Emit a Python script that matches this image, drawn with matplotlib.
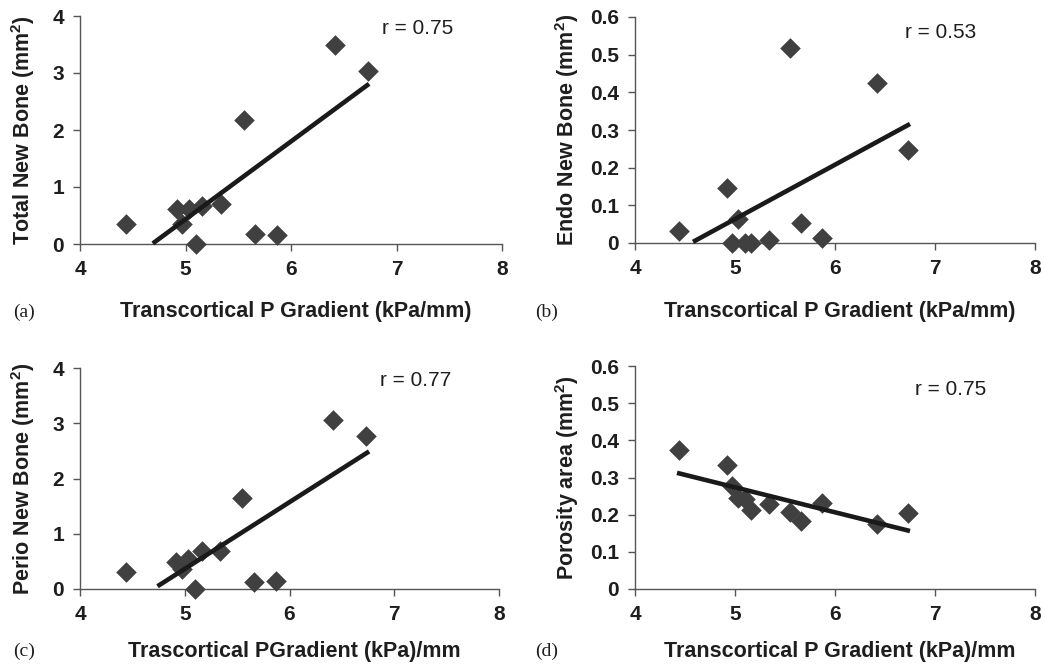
import matplotlib
matplotlib.use("Agg")
import matplotlib.pyplot as plt
import numpy as np

# Shared x data: transcortical pressure gradient (kPa/mm)
gradient = [4.44, 4.92, 4.97, 5.03, 5.10, 5.16, 5.34, 5.55, 5.66, 5.87, 6.42, 6.73]

total_new_bone = [0.35, 0.62, 0.35, 0.61, 0.00, 0.66, 0.70, 2.18, 0.17, 0.15, 3.49, 3.03]
endo_new_bone = [0.031, 0.145, 0.000, 0.063, 0.000, 0.000, 0.007, 0.517, 0.054, 0.012, 0.426, 0.247]
perio_new_bone = [0.31, 0.49, 0.36, 0.54, 0.00, 0.68, 0.69, 1.65, 0.13, 0.15, 3.06, 2.77]
porosity_area = [0.373, 0.333, 0.277, 0.245, 0.241, 0.212, 0.230, 0.206, 0.184, 0.232, 0.175, 0.205]

# Trend lines: (x_start, y_start, x_end, y_end)
trend_a = [4.69, 0.01, 6.74, 2.81]
trend_b = [4.58, 0.003, 6.75, 0.316]
trend_c = [4.74, 0.05, 6.76, 2.49]
trend_d = [4.42, 0.3125, 6.75, 0.156]

r_labels = ["r = 0.75", "r = 0.53", "r = 0.77", "r = 0.75"]
panel_labels = ["(a)", "(b)", "(c)", "(d)"]
ylabels = ["Total New Bone (mm$^{2}$)", "Endo New Bone (mm$^{2}$)",
           "Perio New Bone (mm$^{2}$)", "Porosity area (mm$^{2}$)"]
xlabels = ["Transcortical P Gradient (kPa/mm)", "Transcortical P Gradient (kPa/mm)",
           "Trascortical PGradient (kPa)/mm", "Transcortical P Gradient (kPa)/mm"]
xticks = [4, 5, 6, 7, 8]
yticks_big = [0, 1, 2, 3, 4]
yticks_small = [0, 0.1, 0.2, 0.3, 0.4, 0.5, 0.6]

W, H = 1045, 669
fig = plt.figure(figsize=(W / 100, H / 100), dpi=100)
plt.rcParams['font.family'] = ['Liberation Sans', 'DejaVu Sans']
plt.rcParams['mathtext.fontset'] = 'custom'
plt.rcParams['mathtext.rm'] = 'Liberation Sans:bold'
plt.rcParams['mathtext.it'] = 'Liberation Sans:bold'
plt.rcParams['mathtext.bf'] = 'Liberation Sans:bold'

# axes boxes in pixel coords: left, right, top, bottom
boxes = [(80, 502, 16, 244), (635, 1035, 17, 243), (80, 499, 368, 589), (635, 1035, 366, 589)]
ydata = [total_new_bone, endo_new_bone, perio_new_bone, porosity_area]
trends = [trend_a, trend_b, trend_c, trend_d]
yticks_all = [yticks_big, yticks_small, yticks_big, yticks_small]
ylims = [(0, 4), (0, 0.6), (0, 4), (0, 0.6)]
r_pos = [(382, 29), (905, 32), (380, 380), (915, 389)]
xlab_y = [312, 312, 651, 651]
panel_x = [13, 535]
ylab_x = [23, 47, 23, 47]

axis_col = "#555555"
for i in range(4):
    l, r, t, b = boxes[i]
    ax = fig.add_axes([l / W, 1 - b / H, (r - l) / W, (b - t) / H])
    ax.scatter(gradient, ydata[i], marker="D", s=110, color="#404040", zorder=3, linewidths=0)
    tr = trends[i]
    ax.plot([tr[0], tr[2]], [tr[1], tr[3]], color="#1a1a1a", lw=3.3, zorder=4, solid_capstyle="butt")
    ax.set_xlim(4, 8)
    ax.set_ylim(*ylims[i])
    ax.set_xticks(xticks)
    ax.set_yticks(yticks_all[i])
    if ylims[i][1] < 1:
        ax.set_yticklabels(["0"] + [f"{v:.1f}" for v in yticks_all[i][1:]])
    ax.spines["top"].set_visible(False)
    ax.spines["right"].set_visible(False)
    for s in ["left", "bottom"]:
        ax.spines[s].set_color(axis_col)
        ax.spines[s].set_linewidth(1.0)
    ax.tick_params(axis="both", direction="out", length=5, width=1.0, color=axis_col,
                   labelsize=15, pad=6.5)
    for lab in ax.get_xticklabels() + ax.get_yticklabels():
        lab.set_fontweight("bold")
        lab.set_color("#1e1e1e")
    for art in ax.collections + ax.lines:
        art.set_clip_on(False)
    # labels in figure coords
    fig.text(ylab_x[i] / W if i % 2 == 0 else (520 + ylab_x[i]) / W, 1 - ((t + b) / 2) / H,
             ylabels[i], rotation=90, ha="center", va="center", fontsize=15.5,
             fontweight="bold", color="#1e1e1e")
    fig.text(((l + r) / 2 + 5) / W, 1 - xlab_y[i] / H, xlabels[i], ha="center", va="center",
             fontsize=15.5, fontweight="bold", color="#1e1e1e")
    fig.text(panel_x[i % 2] / W, 1 - xlab_y[i] / H, panel_labels[i], ha="left", va="center",
             fontsize=14, family="Liberation Serif", color="#1e1e1e")
    fig.text(r_pos[i][0] / W, 1 - r_pos[i][1] / H, r_labels[i], ha="left", va="center",
             fontsize=15, color="#1e1e1e")

fig.savefig("out.png", dpi=100)
